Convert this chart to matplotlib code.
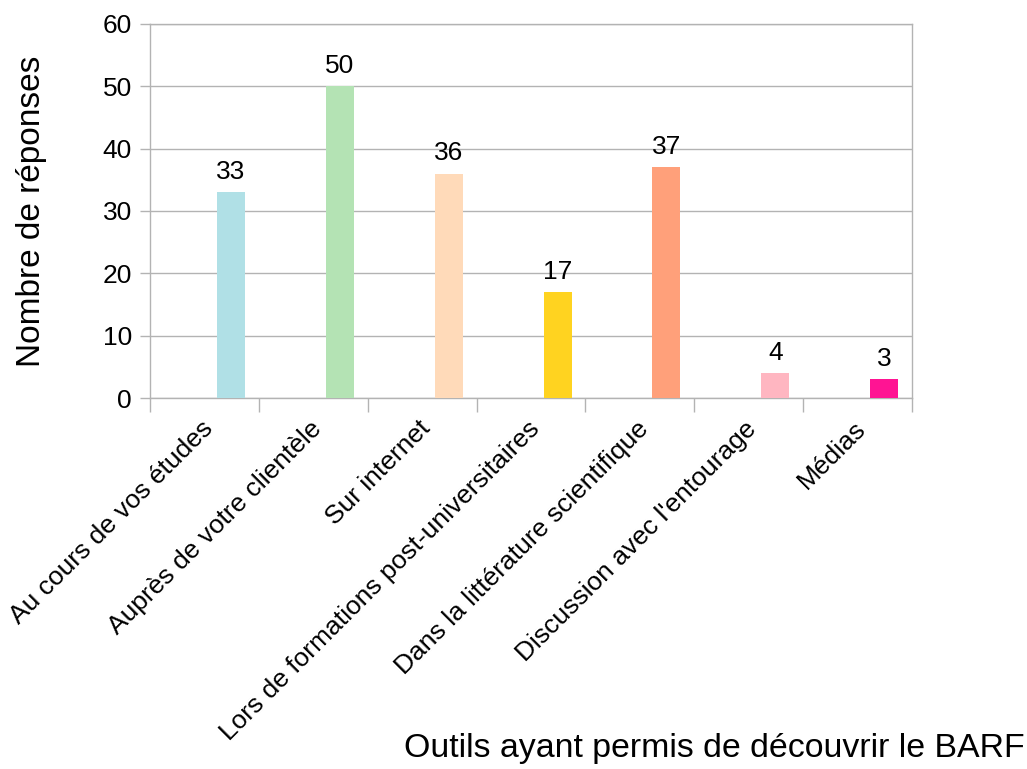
import matplotlib
matplotlib.use("Agg")
import matplotlib.pyplot as plt
import matplotlib.transforms as mtransforms
import numpy as np

categories = ["Au cours de vos études", "Auprès de votre clientèle", "Sur internet",
              "Lors de formations post-universitaires", "Dans la littérature scientifique",
              "Discussion avec l'entourage", "Médias"]
values = [33, 50, 36, 17, 37, 4, 3]
colors = ["#B0E0E6", "#B4E3B4", "#FFDAB9", "#FFD320", "#FFA07A", "#FFB6C1", "#FF1493"]
yticks = [0, 10, 20, 30, 40, 50, 60]

plt.rcParams['font.family'] = ['Liberation Sans', 'DejaVu Sans']

fig = plt.figure(figsize=(10.27, 7.69), dpi=100)
ax = fig.add_axes([150/1027, 1-398/769, (912-150)/1027, (398-24)/769])

x = np.arange(len(categories))
bars = ax.bar(x + 0.244, values, width=0.257, color=colors, zorder=3)
for b, v in zip(bars, values):
    ax.text(b.get_x() + b.get_width()/2, v + 1.3, str(v), ha='center', va='bottom',
            fontsize=19, color='black', zorder=4)

ax.set_xlim(-0.5, len(categories) - 0.5)
ax.set_ylim(0, 60)
ax.set_yticks(yticks)
ax.set_yticklabels([str(t) for t in yticks], fontsize=19)
ax.yaxis.grid(True, color='#b3b3b3', linewidth=1, zorder=0)

ax.set_xticks(np.arange(len(categories) + 1) - 0.5)
ax.set_xticklabels([])
ax.tick_params(axis='x', which='major', length=10, color='#b3b3b3', width=1)
ax.tick_params(axis='y', length=7, color='#b3b3b3', width=1, pad=6)
ax.set_xticks(x, minor=True)
ax.set_xticklabels(categories, minor=True, rotation=45, ha='right', va='top',
                   rotation_mode='anchor', fontsize=19)
ax.tick_params(axis='x', which='minor', length=0, pad=14)
offset = mtransforms.ScaledTranslation(-4/100, 1/100, fig.dpi_scale_trans)
for lab in ax.get_xticklabels(minor=True):
    lab.set_transform(lab.get_transform() + offset)

for s in ax.spines.values():
    s.set_color('#b3b3b3')
    s.set_linewidth(1)

fig.text(32/1027, 1-211/769, "Nombre de réponses", rotation=90, ha='center', va='center', fontsize=24)
fig.text(1025/1027, 1-748/769, "Outils ayant permis de découvrir le BARF", ha='right', va='center', fontsize=24.4)

fig.savefig("out.png", dpi=100)
